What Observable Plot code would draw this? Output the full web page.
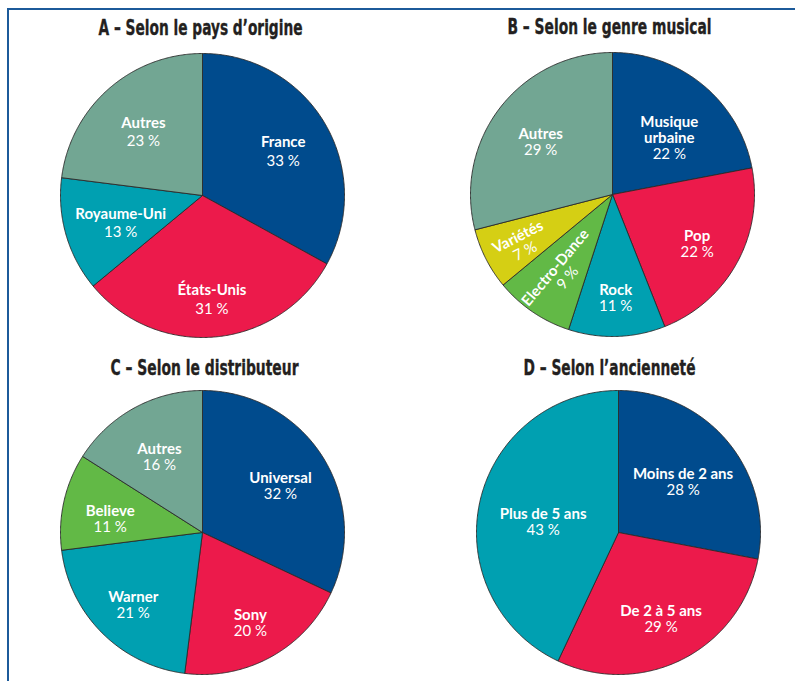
<!DOCTYPE html>
<html><head><meta charset="utf-8">
<script src="https://cdn.jsdelivr.net/npm/d3@7"></script>
<script src="https://cdn.jsdelivr.net/npm/@observablehq/plot@0.6"></script>
<style>
body{margin:0;background:#fff;}
#wrap{position:relative;width:795px;height:681px;overflow:hidden;background:#fff;}
#frame{position:absolute;left:7px;top:8px;width:900px;height:900px;border-left:2px solid #1c5a9a;border-top:2px solid #1c5a9a;}
.panel{position:absolute;}
</style></head><body>
<div id="wrap"><div id="frame"></div></div>
<script>
// ---- Data ----
const titleA = "A – Selon le pays d’origine";
const labelsA = ["France", "États-Unis", "Royaume-Uni", "Autres"];
const valuesA = [33, 31, 13, 23];

const titleB = "B – Selon le genre musical";
const labelsB = ["Musique\nurbaine", "Pop", "Rock", "Electro-Dance", "Variétés", "Autres"];
const valuesB = [22, 22, 11, 9, 7, 29];

const titleC = "C – Selon le distributeur";
const labelsC = ["Universal", "Sony", "Warner", "Believe", "Autres"];
const valuesC = [32, 20, 21, 11, 16];

const titleD = "D – Selon l’ancienneté";
const labelsD = ["Moins de 2 ans", "De 2 à 5 ans", "Plus de 5 ans"];
const valuesD = [28, 29, 43];

// ---- Styles / layout ----
const BLUE = "#004b8d", RED = "#ec1a4b", TEAL = "#00a0b1", GREY = "#72a693", GREEN = "#62b946", YELLOW = "#d5cf14";
const colorsA = [BLUE, RED, TEAL, GREY];
const colorsB = [BLUE, RED, TEAL, GREEN, YELLOW, GREY];
const colorsC = [BLUE, RED, TEAL, GREEN, GREY];
const colorsD = [BLUE, RED, TEAL];

const panels = [
  {title: titleA, labels: labelsA, values: valuesA, colors: colorsA, left: 0, top: 0, cx: 202, cy: 195, tdx: -2, tdy: -25, tw: 204,
   frac: [0.66, 0.71, 0.60, 0.63], nudge: [0, 0, 0, 0], rot: [0, 0, 0, 0], spacing: 20},
  {title: titleB, labels: labelsB, values: valuesB, colors: colorsB, left: 395, top: 0, cx: 217, cy: 194, tdx: -3, tdy: -25, tw: 204,
   frac: [0.58, 0.68, 0.71, 0.64, 0.72, 0.64], nudge: [4, 0, 0, 0, 0, 0], rot: [0, 0, 0, -50, -27, 0], spacing: 16.5},
  {title: titleC, labels: labelsC, values: valuesC, colors: colorsC, left: 0, top: 338, cx: 202, cy: 194, tdx: 2, tdy: -22.5, tw: 188,
   frac: [0.65, 0.70, 0.69, 0.66, 0.63], nudge: [0, 0, 0, -2.5, 0], rot: [0, 0, 0, 0, 0], spacing: 16.5},
  {title: titleD, labels: labelsD, values: valuesD, colors: colorsD, left: 395, top: 338, cx: 223, cy: 194, tdx: -9, tdy: -22.5, tw: 172,
   frac: [0.59, 0.66, 0.54], nudge: [0, 0, -2.2], rot: [0, 0, 0], spacing: 16.5}
];
const R = 142;
const FONT = "Lato, 'Open Sans', sans-serif";
const TFONT = "'Liberation Sans Narrow', 'DejaVu Sans Condensed', 'Liberation Sans', sans-serif";

const wrap = document.getElementById("wrap");

for (const p of panels) {
  const rows = p.labels.map((label, i) => ({label, value: p.values[i], color: p.colors[i], i}));
  const arcs = d3.pie().sort(null).value(d => d.value)(rows);
  const pts = [];
  const lbl = [];
  for (const a of arcs) {
    const d = a.data;
    const n = Math.max(2, Math.ceil((a.endAngle - a.startAngle) / (Math.PI / 360)));
    pts.push({label: d.label, color: d.color, x: 0, y: 0});
    for (let k = 0; k <= n; k++) {
      const t = a.startAngle + (a.endAngle - a.startAngle) * k / n;
      pts.push({label: d.label, color: d.color, x: Math.sin(t), y: Math.cos(t)});
    }
    pts.push({label: d.label, color: d.color, x: 0, y: 0});
    const m = (a.startAngle + a.endAngle) / 2 + p.nudge[d.i] * Math.PI / 180;
    const f = p.frac[d.i];
    const Px = Math.sin(m) * f, Py = Math.cos(m) * f;
    const r = p.rot[d.i] * Math.PI / 180;
    const nl = d.label.split("\n").length;
    const s = p.spacing;
    const downX = -Math.sin(r), downY = -Math.cos(r);
    const nOff = -s / 2 / R, pOff = (nl / 2) * s / R;
    lbl.push({
      name: d.label, pct: d.value + " %", rot: p.rot[d.i],
      nx: Px + downX * nOff, ny: Py + downY * nOff,
      px: Px + downX * pOff, py: Py + downY * pOff
    });
  }
  const chart = Plot.plot({
    width: 400, height: 343, margin: 0,
    x: {domain: [-1, 1], range: [p.cx - R, p.cx + R], axis: null},
    y: {domain: [-1, 1], range: [p.cy + R, p.cy - R], axis: null},
    color: {type: "identity"},
    style: {background: "transparent", overflow: "visible"},
    marks: [
      Plot.line(pts, {x: "x", y: "y", z: "label", fill: "color", stroke: "#2a2a2a", strokeWidth: 0.9, strokeLinejoin: "round"}),
      Plot.text(lbl, {x: "nx", y: "ny", text: "name", rotate: "rot", dy: 3, fill: "white", fontWeight: 700, fontSize: 15, fontFamily: FONT, lineHeight: p.spacing / 15}),
      Plot.text(lbl, {x: "px", y: "py", text: "pct", rotate: "rot", dy: 3, fill: "white", fontWeight: 400, fontSize: 15, fontFamily: FONT}),
      Plot.text([p.title], {x: () => 0, y: () => 1, dx: p.tdx, dy: p.tdy, text: d => d, fill: "#231f20", stroke: "#231f20", strokeWidth: 0.35, fontWeight: 700, fontSize: 21, fontFamily: TFONT})
    ]
  });
  chart.querySelectorAll("text").forEach(t => {
    if (t.textContent === p.title) {
      t.setAttribute("textLength", p.tw);
      t.setAttribute("lengthAdjust", "spacingAndGlyphs");
    }
  });
  const div = document.createElement("div");
  div.className = "panel";
  div.style.left = p.left + "px";
  div.style.top = p.top + "px";
  div.appendChild(chart);
  wrap.appendChild(div);
}
</script>
</body></html>
